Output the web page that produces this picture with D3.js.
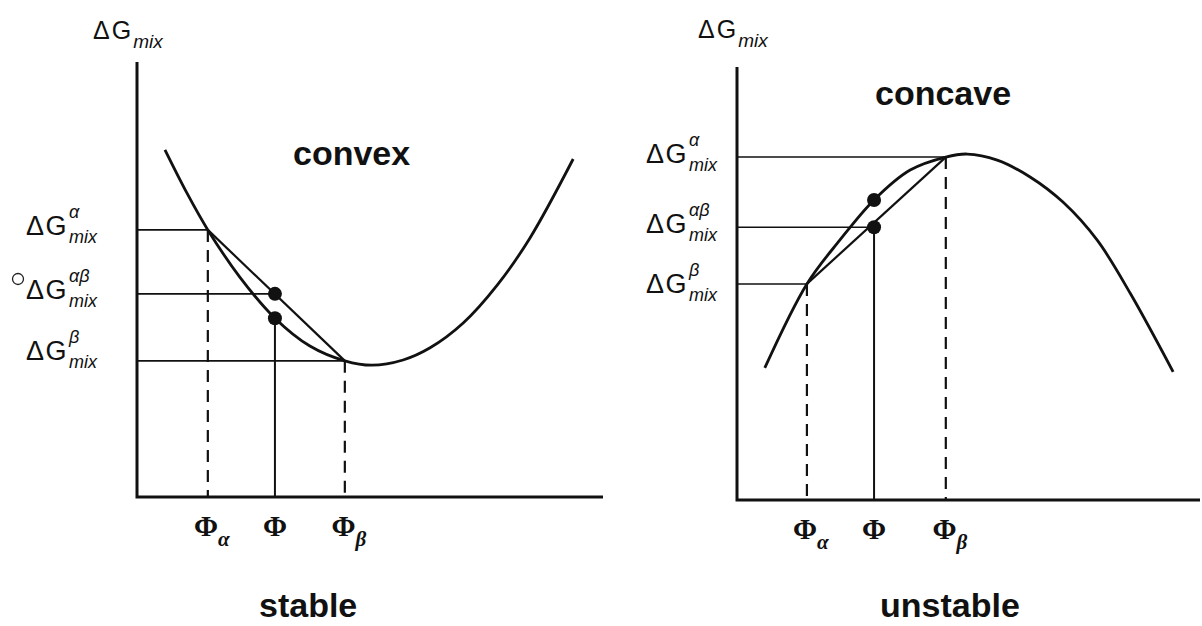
<!DOCTYPE html>
<html>
<head>
<meta charset="utf-8">
<script src="https://cdn.jsdelivr.net/npm/d3@7/dist/d3.min.js"></script>
<style>
  html, body { margin: 0; padding: 0; background: #fff; }
  svg { display: block; }
  text { fill: #111; }
</style>
</head>
<body>
<svg id="chart" width="1202" height="626"></svg>
<script>
// Free energy of mixing vs. composition: a convex (stable) and a concave (unstable) curve.

// --- convex / stable panel ---
const stablePhi = [6.0, 10.7, 15.2, 22.1, 29.6, 37.1, 44.6, 50.4, 57.1, 62.9, 70.0, 77.3, 84.3, 93.6];
const stableG   = [79.8, 69.9, 61.4, 50.5, 41.1, 34.7, 31.3, 30.3, 31.5, 34.3, 40.0, 48.7, 59.5, 77.7];
const stablePhiMarks = [15.2, 29.6, 44.6];      // Φα, Φ, Φβ
const stableLevels   = [61.4, 46.7, 31.3];      // ΔG^α, ΔG^αβ, ΔG^β (top to bottom)
const stableLevelAt  = [0, 1, 2];               // which Φ mark each level meets
const stableCurveAtPhi = 41.1;                  // ΔG on the curve at Φ

// --- concave / unstable panel ---
const unstablePhi = [6.0, 15.1, 22.2, 29.6, 37.4, 45.1, 49.7, 56.2, 63.3, 70.4, 77.8, 84.9, 94.2];
const unstableG   = [30.5, 49.9, 60.0, 69.3, 76.2, 79.2, 79.9, 78.5, 74.6, 68.8, 60.0, 47.8, 29.6];
const unstablePhiMarks = [15.1, 29.6, 45.1];    // Φα, Φ, Φβ
const unstableLevels   = [79.2, 63.0, 49.9];    // ΔG^α, ΔG^αβ, ΔG^β (top to bottom)
const unstableLevelAt  = [2, 1, 0];
const unstableCurveAtPhi = 69.3;

// --- shared labels ---
const phiSubscripts  = ["α", "", "β"];
const levelSupers    = ["α", "αβ", "β"];
const panelTitles    = ["convex", "concave"];
const panelCaptions  = ["stable", "unstable"];

const svg = d3.select("#chart");
const SANS = "'Liberation Sans', Arial, Helvetica, sans-serif";
const SERIF = "'Liberation Serif', 'Times New Roman', serif";

function drawPanel(p) {
  const x = d3.scaleLinear().domain([0, 100]).range(p.xRange);
  const y = d3.scaleLinear().domain([0, 100]).range(p.yRange);
  const g = svg.append("g");
  const x0 = p.xRange[0], yBase = p.yRange[0];

  // axes
  g.append("path")
    .attr("d", `M${x0},${p.yRange[1]} L${x0},${yBase} L${p.xRange[1]},${yBase}`)
    .attr("fill", "none").attr("stroke", "#111").attr("stroke-width", 3);

  // axis title ΔG_mix
  const t = g.append("text").attr("x", p.axisTitle[0]).attr("y", p.axisTitle[1])
    .attr("font-family", SANS);
  t.append("tspan").attr("font-size", 25).attr("letter-spacing", 2).text("ΔG");
  t.append("tspan").attr("font-size", 19).attr("font-style", "italic").attr("dy", 9).text("mix");

  // where each level meets its Φ mark
  const anchors = p.levels.map((lv, i) => [p.phiMarks[p.levelAt[i]], lv]);
  const endA = anchors[p.levelAt.indexOf(0)];   // point at Φα
  const endB = anchors[p.levelAt.indexOf(2)];   // point at Φβ
  const chordAtPhi = anchors[p.levelAt.indexOf(1)][1];
  const phiM = p.phiMarks[1];
  const lowerDot = Math.min(chordAtPhi, p.curveAtPhi);

  // horizontal guides to the axis
  g.selectAll(".guide").data(anchors).join("line")
    .attr("x1", x0).attr("x2", d => x(d[0]))
    .attr("y1", d => y(d[1])).attr("y2", d => y(d[1]))
    .attr("stroke", "#111").attr("stroke-width", 1.6);

  // dashed drops at Φα and Φβ
  g.selectAll(".drop").data([endA, endB]).join("line")
    .attr("x1", d => x(d[0])).attr("x2", d => x(d[0]))
    .attr("y1", d => y(d[1])).attr("y2", yBase)
    .attr("stroke", "#111").attr("stroke-width", 2.2)
    .attr("stroke-dasharray", "12,8");

  // solid drop at Φ
  g.append("line")
    .attr("x1", x(phiM)).attr("x2", x(phiM))
    .attr("y1", y(lowerDot)).attr("y2", yBase)
    .attr("stroke", "#111").attr("stroke-width", 2);

  // chord between the two phase points
  g.append("line")
    .attr("x1", x(endA[0])).attr("y1", y(endA[1]))
    .attr("x2", x(endB[0])).attr("y2", y(endB[1]))
    .attr("stroke", "#111").attr("stroke-width", 2.2);

  // the free-energy curve
  const pts = p.phi.map((v, i) => [v, p.g[i]]);
  g.append("path").datum(pts)
    .attr("d", d3.line().x(d => x(d[0])).y(d => y(d[1])).curve(d3.curveCatmullRom.alpha(0.5)))
    .attr("fill", "none").attr("stroke", "#111").attr("stroke-width", 2.8);

  // dots at Φ: one on the chord, one on the curve
  g.selectAll(".dot").data([chordAtPhi, p.curveAtPhi]).join("circle")
    .attr("cx", x(phiM)).attr("cy", d => y(d)).attr("r", 7)
    .attr("fill", "#111");

  // level labels ΔG^sup_mix
  p.levels.forEach((lv, i) => {
    const yy = y(lv) + p.labelDy[i];
    g.append("text").attr("x", p.labelX).attr("y", yy)
      .attr("text-anchor", "end").attr("font-family", SANS)
      .attr("font-size", 27).attr("letter-spacing", 1.5).text("ΔG");
    g.append("text").attr("x", p.labelX + 1).attr("y", yy - 17)
      .attr("font-family", SANS).attr("font-style", "italic")
      .attr("font-size", 18).text(levelSupers[i]);
    g.append("text").attr("x", p.labelX + 1).attr("y", yy + 8)
      .attr("font-family", SANS).attr("font-style", "italic")
      .attr("font-size", 18).text("mix");
  });

  // Φ tick labels
  p.phiMarks.forEach((v, i) => {
    const tx = g.append("text").attr("x", x(v) + (phiSubscripts[i] ? 4 : 0)).attr("y", yBase + 39)
      .attr("text-anchor", "middle").attr("font-family", SERIF).attr("font-weight", "bold");
    tx.append("tspan").attr("font-size", 29).text("Φ");
    if (phiSubscripts[i]) {
      tx.append("tspan").attr("font-size", 21).attr("font-style", "italic")
        .attr("dy", 10).text(phiSubscripts[i]);
    }
  });

  // panel title and caption
  g.append("text").attr("x", p.title[0]).attr("y", p.title[1])
    .attr("font-family", SANS).attr("font-weight", "bold").attr("font-size", 34)
    .text(p.titleText);
  g.append("text").attr("x", p.caption[0]).attr("y", p.caption[1])
    .attr("font-family", SANS).attr("font-weight", "bold").attr("font-size", 34)
    .text(p.captionText);
  return g;
}

const left = drawPanel({
  xRange: [137, 603], yRange: [497, 62],
  phi: stablePhi, g: stableG,
  phiMarks: stablePhiMarks, levels: stableLevels, levelAt: stableLevelAt,
  curveAtPhi: stableCurveAtPhi,
  axisTitle: [93, 39], labelX: 68, labelDy: [5, 5, -1],
  title: [293, 165], titleText: panelTitles[0],
  caption: [259, 617], captionText: panelCaptions[0]
});

// small open ring beside the ΔG^αβ label
left.append("circle").attr("cx", 18).attr("cy", 279).attr("r", 5.5)
  .attr("fill", "none").attr("stroke", "#222").attr("stroke-width", 1.3);

drawPanel({
  xRange: [737, 1200], yRange: [500, 67],
  phi: unstablePhi, g: unstableG,
  phiMarks: unstablePhiMarks, levels: unstableLevels, levelAt: unstableLevelAt,
  curveAtPhi: unstableCurveAtPhi,
  axisTitle: [698, 38], labelX: 688, labelDy: [6, 6, 9],
  title: [875, 105], titleText: panelTitles[1],
  caption: [880, 617], captionText: panelCaptions[1]
});
</script>
</body>
</html>
